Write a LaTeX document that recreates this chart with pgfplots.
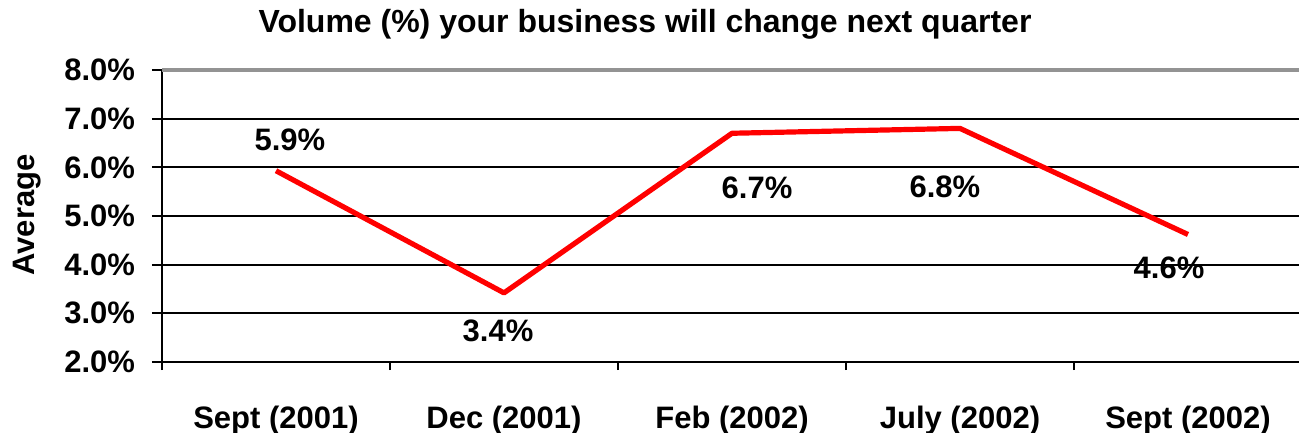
\documentclass[border=0pt]{standalone}
\usepackage{pgfplots}
\pgfplotsset{compat=1.18}
\usepackage{fontspec}
\setmainfont{Liberation Sans}
\begin{document}
\begin{tikzpicture}[font=\bfseries]
\path[use as bounding box] (0,0) rectangle (649.5pt,216.5pt);
\begin{axis}[
  at={(81pt,35.5pt)}, anchor=south west,
  scale only axis, width=568.5pt, height=146pt,
  xmin=-0.5, xmax=4.487, ymin=2, ymax=8,
  clip=false,
  axis x line*=bottom, axis y line*=left,
  axis line style={line width=1.2pt, black, -},
  ytick={2,3,4,5,6,7},
  extra y ticks={8},
  extra y tick style={grid style={draw=gray!85, line width=1.6pt}},
  ymajorgrids, grid style={black, line width=0.9pt},
  tick align=outside, major tick length=5pt,
  tick style={black, line width=1pt},
  /pgf/number format/assume math mode=true,
  yticklabel={\pgfmathprintnumber[fixed,fixed zerofill,precision=1]{\tick}\%},
  yticklabel style={font=\fontsize{15.5}{18}\bfseries, anchor=east, xshift=-5pt},
  xtick={0,1,2,3,4},
  xticklabels={Sept (2001),Dec (2001),Feb (2002),July (2002),Sept (2002)},
  xtick style={draw=none},
  xticklabel style={font=\fontsize{15.5}{18}\bfseries, anchor=center, yshift=-24pt},
  extra x ticks={-0.5,0.5,1.5,2.5,3.5},
  extra x tick labels={},
  extra x tick style={xtick style={draw=black, line width=1pt}, major tick length=4pt, xmajorgrids=false},
]
\addplot[red, line width=2.6pt, line join=round] coordinates {
  (0,5.93) (1,3.42) (2,6.7) (3,6.8) (4,4.62)
};
\node[font=\fontsize{15.5}{18}\bfseries] at (axis cs:0.061,6.56) {5.9\%};
\node[font=\fontsize{15.5}{18}\bfseries] at (axis cs:0.974,2.64) {3.4\%};
\node[font=\fontsize{15.5}{18}\bfseries] at (axis cs:2.110,5.58) {6.7\%};
\node[font=\fontsize{15.5}{18}\bfseries] at (axis cs:2.934,5.60) {6.8\%};
\node[font=\fontsize{15.5}{18}\bfseries] at (axis cs:3.917,3.93) {4.6\%};
\end{axis}
\node[font=\fontsize{16}{18}\bfseries] at (322.5pt,204.5pt) {Volume (\%) your business will change next quarter};
\node[font=\fontsize{15.5}{18}\bfseries, rotate=90] at (13.5pt,109pt) {Average};
\end{tikzpicture}
\end{document}
